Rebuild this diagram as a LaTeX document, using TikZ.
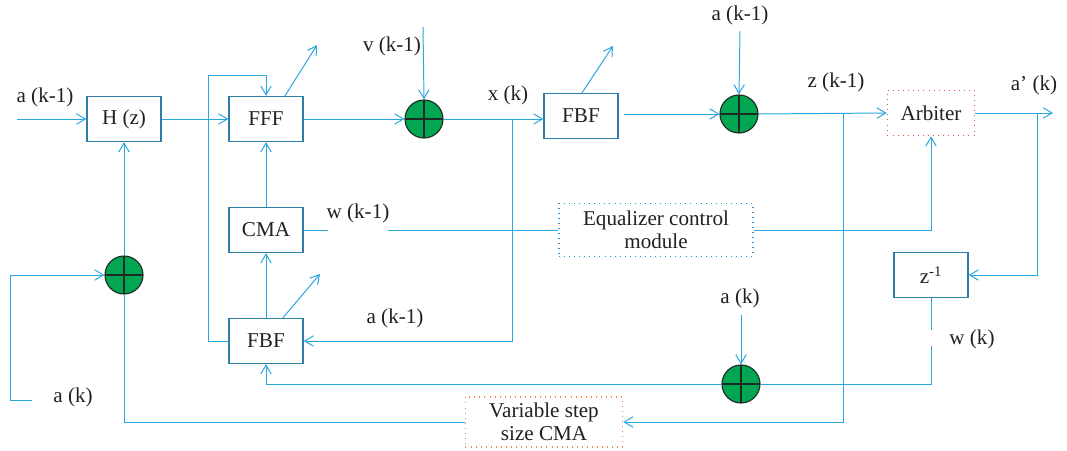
\documentclass[tikz,border=0pt]{standalone}
\usepackage{fontspec}
\setmainfont{Liberation Serif}
\usepackage{tikz}
\usepackage{xcolor}
\usetikzlibrary{arrows.meta,positioning,calc}
\definecolor{wire}{HTML}{29A6DE}
\definecolor{boxline}{HTML}{2F7EA8}
\definecolor{sumgreen}{HTML}{00A651}
\definecolor{sumedge}{HTML}{1E2A22}
\definecolor{dotred}{HTML}{E8503A}
\definecolor{dotorange}{HTML}{F0884A}
\definecolor{dotblue}{HTML}{2A8FD0}
\definecolor{ink}{HTML}{231F20}
\tikzset{
  sig/.style={-{Straight Barb[length=2.2mm,width=2.6mm]},line width=0.7pt,draw=wire},
  wireline/.style={line width=0.7pt,draw=wire},
  blockbox/.style={draw=boxline,line width=1pt,minimum width=1.85cm,
                   minimum height=1.125cm,inner sep=1pt,text=ink,
                   font=\fontsize{15}{16.5}\selectfont},
  dotbox/.style={line width=1.1pt,dash pattern=on 0.6pt off 3pt,
                 align=center,inner sep=1pt,text=ink,
                 font=\fontsize{15}{16.5}\selectfont},
  summer/.style={circle,draw=sumedge,fill=sumgreen,line width=0.8pt,
                 minimum size=0.95cm,inner sep=0pt,
                 path picture={
                   \draw[sumedge,line width=0.9pt]
                     (path picture bounding box.north) -- (path picture bounding box.south)
                     (path picture bounding box.west) -- (path picture bounding box.east);}},
  sigtag/.style={text=ink,inner sep=1pt,font=\fontsize{15}{16.5}\selectfont}
}
\begin{document}
\begin{tikzpicture}[x=0.025cm,y=-0.025cm]
    \path[use as bounding box] (0,0) rectangle (1067,451);

    % blocks
    \node[blockbox] (hz) at (124,119) {H (z)};
    \node[blockbox] (fff) at (266,119) {FFF};
    \node[blockbox] (cma) at (266,230) {CMA};
    \node[blockbox] (fbfb) at (266,341) {FBF};
    \node[blockbox] (fbfa) at (581,116) {FBF};
    \node[blockbox] (zinv) at (931,275) {z\textsuperscript{-1}};
    \node[dotbox,draw=dotred,minimum width=2.175cm,minimum height=1.125cm]
      (arb) at (931,113) {Arbiter};
    \node[dotbox,draw=dotblue,minimum width=4.85cm,minimum height=1.325cm]
      (eq) at (656,230) {Equalizer control\\module};
    \node[dotbox,draw=dotorange,minimum width=3.925cm,minimum height=1.25cm]
      (vss) at (544,422) {Variable step\\size CMA};

    % adders
    \node[summer] (s1) at (424,119) {};
    \node[summer] (s2) at (739,114) {};
    \node[summer] (s3) at (741,384) {};
    \node[summer] (s4) at (124,275) {};

    % free ends and bends
    \coordinate (ain) at (17,119);
    \coordinate (vin) at (423,27);
    \coordinate (atop) at (740,31);
    \coordinate (aout) at (1053,113);
    \coordinate (loop) at (208,75);
    \coordinate (xk) at (512,119);
    \coordinate (zk) at (843,114);
    \coordinate (ak) at (1037,113);
    \coordinate (amid) at (741,315);
    \coordinate (wgapa) at (931,330);
    \coordinate (wgapb) at (931,346);
    \coordinate (wlefta) at (328,230);
    \coordinate (wleftb) at (388,230);
    \coordinate (akin) at (32,400);
    \coordinate (akbend) at (10,400);
    \coordinate (fffup) at (317,45);
    \coordinate (fbfaup) at (613,46);
    \coordinate (fbfbup) at (320,274);

    % forward path
    \draw[sig] (ain) -- (hz.west);
    \draw[sig] (hz.east) -- (fff.west);
    \draw[sig] (fff.east) -- (s1.west);
    \draw[sig] (vin) -- (s1.north);
    \draw[sig] (s1.east) -- (fbfa.west |- s1.east);
    \draw[sig] ($(fbfa.east |- s2.west)+(5,0)$) -- (s2.west);
    \draw[sig] (atop) -- (s2.north);
    \draw[sig] (s2.east) -- (arb.west);
    \draw[sig] (arb.east) -- (aout);

    % tap outputs
    \draw[sig] ($(fff.north)+(19,0)$) -- (fffup);
    \draw[sig] ($(fbfa.north)+(1,0)$) -- (fbfaup);
    \draw[sig] ($(fbfb.north)+(17,0)$) -- (fbfbup);

    % feedback loops
    \draw[sig] (fbfb.west) -| (loop) -| (fff.north);
    \draw[sig] (xk) |- (fbfb.east);
    \draw[sig] (cma.north) -- (fff.south);
    \draw[sig] (fbfb.north) -- (cma.south);
    \draw[wireline] (cma.east) -- (wlefta);
    \draw[wireline] (wleftb) -- (eq.west);
    \draw[sig] (eq.east) -| (arb.south);
    \draw[sig] (zk) |- (vss.east);
    \draw[sig] (ak) |- (zinv.east);
    \draw[wireline] (zinv.south) -- (wgapa);
    \draw[wireline] (wgapb) |- (s3.east);
    \draw[sig] (amid) -- (s3.north);
    \draw[sig] (s3.west) -| (fbfb.south);
    \draw[sig] (s4.north) -- (hz.south);
    \draw[sig] (akin) -- (akbend) |- (s4.west);
    \draw[wireline] (s4.south) |- (vss.west);

    % signal names
    \node[sigtag] (tainl) at (45,97) {a (k-1)};
    \node[sigtag] (tvin) at (392,46) {v (k-1)};
    \node[sigtag] (txk) at (508,95) {x (k)};
    \node[sigtag] (tatop) at (740,15) {a (k-1)};
    \node[sigtag] (tzk) at (836,82) {z (k-1)};
    \node[sigtag] (taout) at (1034,85) {a’ (k)};
    \node[sigtag] (twk1) at (358,213) {w (k-1)};
    \node[sigtag] (tafb) at (395,318) {a (k-1)};
    \node[sigtag] (tamid) at (740,298) {a (k)};
    \node[sigtag] (twk) at (972,339) {w (k)};
    \node[sigtag] (takin) at (73,397) {a (k)};
  \end{tikzpicture}
\end{document}
